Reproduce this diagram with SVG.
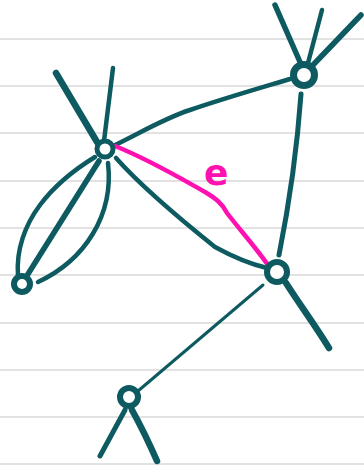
<svg xmlns="http://www.w3.org/2000/svg" width="364" height="470" viewBox="0 0 364 470">
<style>
.rule{stroke:#d9d9d9;stroke-width:1.6}
.ed{fill:none;stroke:#0d5a61;stroke-linecap:round;stroke-linejoin:round}
.nd{fill:#fff;stroke:#0d5a61}
.pk{fill:none;stroke:#ff10b0;stroke-width:4.5;stroke-linecap:round;stroke-linejoin:round}
.lbl{font-family:"DejaVu Sans","Liberation Sans",sans-serif;font-weight:bold;fill:#ff10b0}
</style>
<rect width="364" height="470" fill="#fff"/>
<g id="rules">
<line class="rule" x1="0" y1="39" x2="364" y2="39"/>
<line class="rule" x1="0" y1="86" x2="364" y2="86"/>
<line class="rule" x1="0" y1="133" x2="364" y2="133"/>
<line class="rule" x1="0" y1="181" x2="364" y2="181"/>
<line class="rule" x1="0" y1="228" x2="364" y2="228"/>
<line class="rule" x1="0" y1="275" x2="364" y2="275"/>
<line class="rule" x1="0" y1="323" x2="364" y2="323"/>
<line class="rule" x1="0" y1="370" x2="364" y2="370"/>
<line class="rule" x1="0" y1="417" x2="364" y2="417"/>
<line class="rule" x1="0" y1="464" x2="364" y2="464"/>
</g>
<g id="connectors">
<path class="ed" stroke-width="6.5" d="M56 73 L97 142"/>
<path class="ed" stroke-width="4.5" d="M113 68 L104 141"/>
<path class="ed" stroke-width="4.5" d="M113 146 C140 133 165 118 190 110 C225 98 260 88 290 79"/>
<path class="ed" stroke-width="4.5" d="M95 157 C77 168 55 185 40 205 C25 225 16 250 18 275"/>
<path class="ed" stroke-width="5.5" d="M99 161 L28 274"/>
<path class="ed" stroke-width="4.5" d="M108 163 C114 215 85 260 38 282"/>
<path class="ed" stroke-width="4.5" d="M116 158 C140 185 175 215 215 247 C235 258 250 264 267 268"/>
<path class="ed" stroke-width="5.5" d="M275 5 L300 62"/>
<path class="ed" stroke-width="4.5" d="M322 10 L308 63"/>
<path class="ed" stroke-width="5.5" d="M361 15 L313 65"/>
<path class="ed" stroke-width="5" d="M301 94 C297 150 290 200 279 255"/>
<path class="ed" stroke-width="6.5" d="M286 283 C300 305 315 325 329 348"/>
<path class="ed" stroke-width="3" d="M263 285 L138 391"/>
<path class="ed" stroke-width="5" d="M125 410 L100 456"/>
<path class="ed" stroke-width="6.5" d="M132 410 C142 428 150 445 157 461"/>
<path class="pk" d="M115 146 C150 160 180 178 205 192 C215 198 222 203 227 213 C240 230 258 250 270 268"/>
</g>
<g id="A"><circle class="nd" cx="105" cy="149" r="8" stroke-width="5"/></g>
<g id="B"><circle class="nd" cx="304" cy="75" r="10.5" stroke-width="7"/></g>
<g id="C"><circle class="nd" cx="22" cy="284" r="8" stroke-width="6"/></g>
<g id="D"><circle class="nd" cx="277" cy="272" r="10" stroke-width="6"/></g>
<g id="E"><circle class="nd" cx="129" cy="397" r="9" stroke-width="6"/></g>
<text class="lbl" x="204" y="185" font-size="36">e</text>
</svg>
